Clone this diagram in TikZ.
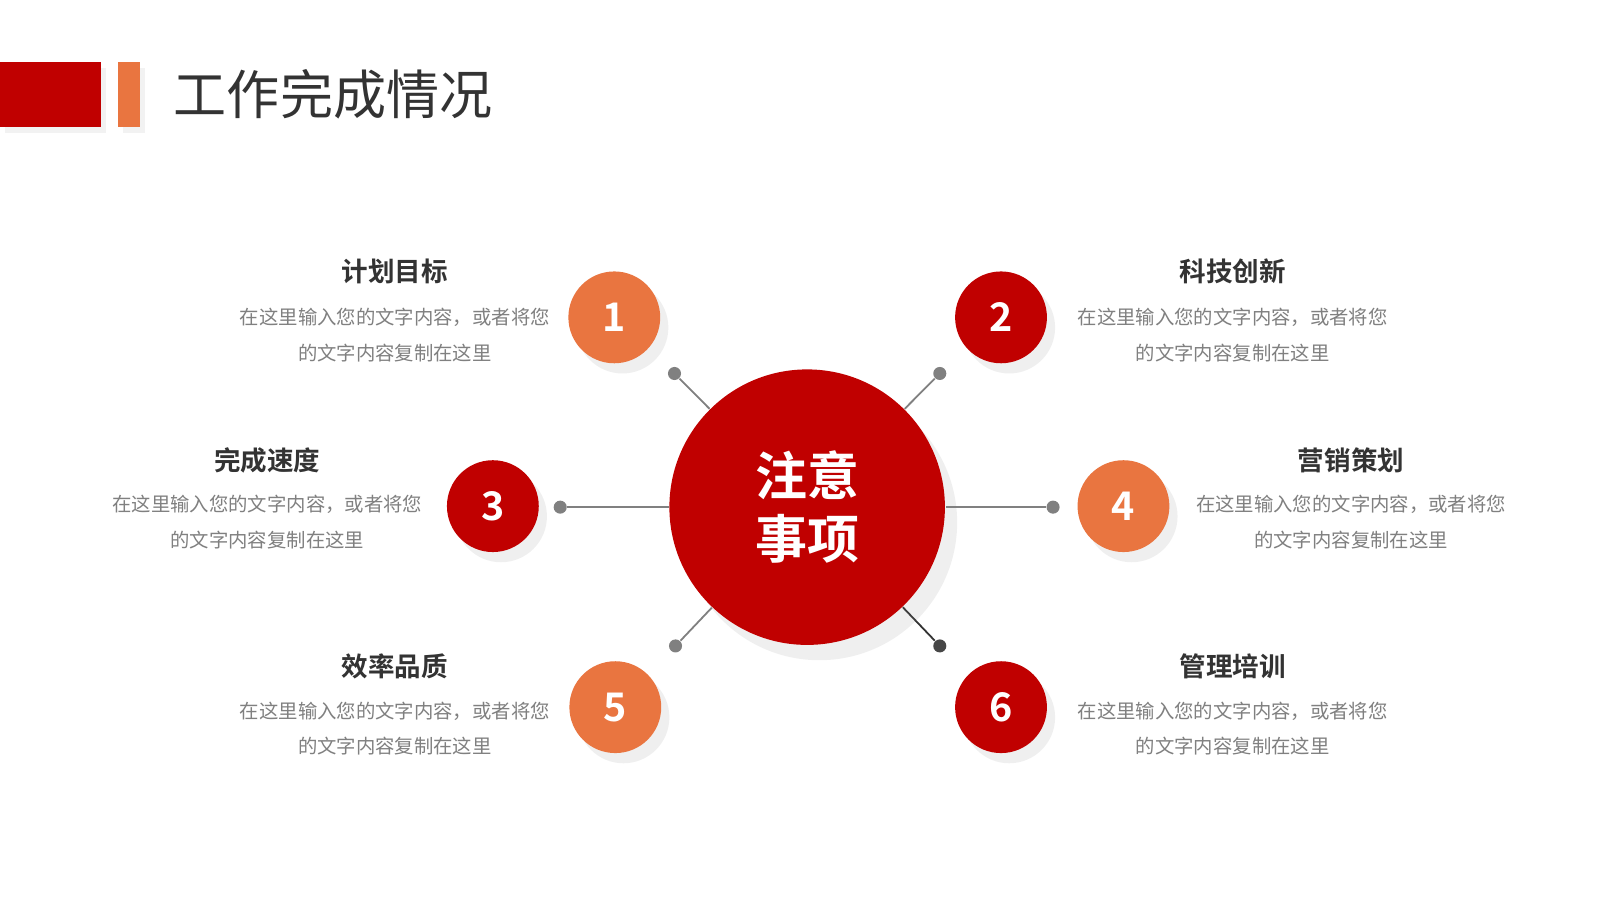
\documentclass[tikz,border=0pt]{standalone}
\usepackage{fontspec}
\setmainfont{Noto Sans CJK SC}
\newfontfamily\cjkb{Noto Sans CJK SC Bold}
\usetikzlibrary{shadows}
\definecolor{mred}{HTML}{C00000}
\definecolor{morange}{HTML}{E97540}
\definecolor{mgray}{HTML}{808080}
\definecolor{dtext}{HTML}{333333}
\tikzset{
 small/.style={circle,minimum size=90*0.1mm,inner sep=0pt,text=white,font=\cjkb\fontsize{11}{13}\selectfont,drop shadow={opacity=0.12,shadow xshift=0.8mm,shadow yshift=-1mm}},
 dotc/.style={circle,fill=mgray,minimum size=3.2mm*0.4,inner sep=0pt},
 conn/.style={draw=mgray,line width=0.5pt},
 head/.style={font=\cjkb\fontsize{7.4}{9}\selectfont,text=dtext},
 desc/.style={font=\fontsize{5.4}{10}\selectfont,text=mgray,align=center}
}
\begin{document}
\begin{tikzpicture}[x=0.1mm,y=-0.1mm]
\useasboundingbox (0,0) rectangle (1568,882);
\fill[white] (0,0) rectangle (1568,882);
\fill[mred,drop shadow={opacity=0.1,shadow xshift=0.5mm,shadow yshift=-0.6mm}] (0,61) rectangle (99,124);
\fill[morange,drop shadow={opacity=0.1,shadow xshift=0.5mm,shadow yshift=-0.6mm}] (116,61) rectangle (137,124);
\node[anchor=west,text=dtext,font=\fontsize{14.8}{16}\selectfont] (title) at (158,92) {工作完成情况};
% connectors
\node[circle,minimum size=270*0.1mm,inner sep=0pt] (c0) at (791,497) {};
\node[dotc] (d1) at (661,366) {};
\node[dotc] (d2) at (921,366) {};
\node[dotc] (d3) at (549,497) {};
\node[dotc] (d4) at (1032,497) {};
\node[dotc] (d5) at (662,633) {};
\node[dotc,fill=dtext!90] (d6) at (921,633) {};
\draw[conn] (d1) -- (c0); \draw[conn] (d2) -- (c0); \draw[conn] (d3) -- (c0);
\draw[conn] (d4) -- (c0); \draw[conn] (d5) -- (c0); \draw[conn,draw=dtext] (d6) -- (c0);
\node[circle,fill=mred,minimum size=270*0.1mm,inner sep=0pt,text=white,align=center,
 font=\cjkb\fontsize{14.5}{17.5}\selectfont,drop shadow={opacity=0.12,shadow xshift=1.2mm,shadow yshift=-1.5mm}] (c) at (791,497) {注意\\事项};
\node[small,fill=morange] (n1) at (602,311) {1};
\node[small,fill=mred] (n2) at (981,311) {2};
\node[small,fill=mred] (n3) at (483,496) {3};
\node[small,fill=morange] (n4) at (1101,496) {4};
\node[small,fill=morange] (n5) at (603,693) {5};
\node[small,fill=mred] (n6) at (981,693) {6};
% texts
\node[head] (h1) at (387,266) {计划目标};
\node[desc] (t1) at (387,328) {在这里输入您的文字内容，或者将您\\的文字内容复制在这里};
\node[head] (h2) at (1208,266) {科技创新};
\node[desc] (t2) at (1208,328) {在这里输入您的文字内容，或者将您\\的文字内容复制在这里};
\node[head] (h3) at (262,451) {完成速度};
\node[desc] (t3) at (262,512) {在这里输入您的文字内容，或者将您\\的文字内容复制在这里};
\node[head] (h4) at (1324,451) {营销策划};
\node[desc] (t4) at (1324,512) {在这里输入您的文字内容，或者将您\\的文字内容复制在这里};
\node[head] (h5) at (387,653) {效率品质};
\node[desc] (t5) at (387,714) {在这里输入您的文字内容，或者将您\\的文字内容复制在这里};
\node[head] (h6) at (1208,653) {管理培训};
\node[desc] (t6) at (1208,714) {在这里输入您的文字内容，或者将您\\的文字内容复制在这里};
\end{tikzpicture}
\end{document}
